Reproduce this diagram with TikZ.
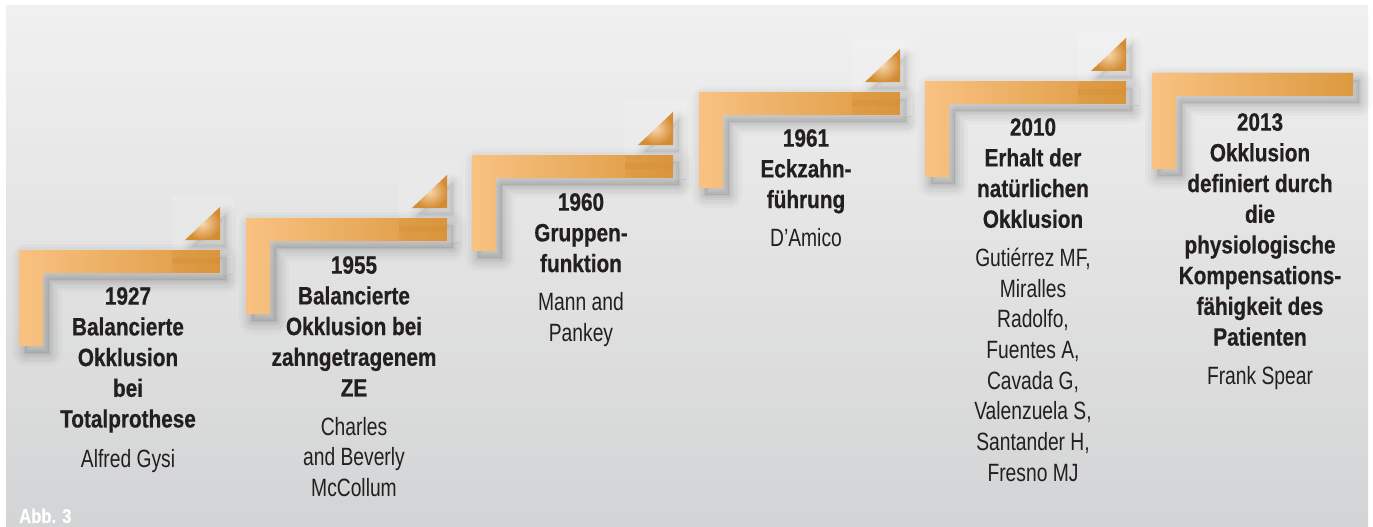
\documentclass[tikz,border=0pt]{standalone}
\usepackage{fontspec}
\setmainfont{Liberation Sans}[UprightFeatures={FakeStretch=0.77}, BoldFeatures={FakeStretch=0.83, FakeBold=0.6}]
\definecolor{txt}{HTML}{231F20}
\definecolor{orL}{HTML}{F9C282}
\definecolor{orR}{HTML}{DC993F}
\definecolor{orD}{HTML}{D38C34}
\definecolor{triIn}{HTML}{F7D6AC}
\definecolor{triOut}{HTML}{D48C33}
\definecolor{bgT}{HTML}{F0F0F0}
\definecolor{bgB}{HTML}{D3D4D5}
\tikzset{
  lbl/.style={align=center, inner sep=0pt, anchor=north, text=txt, font=\fontsize{25}{30.7}\selectfont},
  shd/.style={black, opacity=#1, line join=round}
}
\begin{document}
\begin{tikzpicture}[x=1pt,y=-1pt]
\useasboundingbox (0,0) rectangle (1373,527);
\fill[white] (0,0) rectangle (1373,527);
\shade[top color=bgT, bottom color=bgB] (6,6) rectangle (1368,527);
\foreach \L/\T/\tri in {19/250/1, 246/218/1, 472/155/1, 699/92/1, 925/81/1, 1152/73/0} {
  % soft shadows
  \begin{scope}[shift={(6,7)}]
    \fill[shd=0.08] (\L,\T) -- ++(201,0) -- ++(0,23) -- ++(-177,0) -- ++(0,73) -- ++(-24,0) -- cycle;
    \foreach \w/\o in {26/0.02, 20/0.024, 15/0.028, 10/0.032, 6/0.036, 2/0.04}
      \draw[shd=\o, line width=\w pt] (\L,\T) -- ++(201,0) -- ++(0,23) -- ++(-177,0) -- ++(0,73) -- ++(-24,0) -- cycle;
    \ifnum\tri=1
      \fill[shd=0.07] (\L+201,\T-43) -- (\L+201,\T-10) -- (\L+166,\T-10) -- cycle;
      \foreach \w/\o in {18/0.02, 12/0.026, 7/0.032, 3/0.038}
        \draw[shd=\o, line width=\w pt] (\L+201,\T-43) -- (\L+201,\T-10) -- (\L+166,\T-10) -- cycle;
    \fi
  \end{scope}
  \ifnum\tri=1
    \fill[white, opacity=0.12] (\L+153,\T-55) rectangle (\L+214,\T+24);
    \draw[gray!50, opacity=0.7, line width=0.5pt] (\L+153,\T+24.5) -- (\L+214,\T+24.5);
  \fi
  % bracket
  \shade[left color=orL, right color=orR] (\L,\T) -- ++(201,0) -- ++(0,23) -- ++(-177,0) -- ++(0,73) -- ++(-24,0) -- cycle;
  \ifnum\tri=1
    \fill[orD, opacity=0.25] (\L+153,\T) rectangle (\L+201,\T+23);
    \fill[orD, opacity=0.3] (\L+153,\T+8) rectangle (\L+201,\T+14);
    \shade[inner color=triIn, outer color=triOut] (\L+201,\T-43) -- (\L+201,\T-10) -- (\L+166,\T-10) -- cycle;
  \fi
}
\node[lbl] (t1) at (128,287) {\textbf{1927}\\\textbf{Balancierte}\\\textbf{Okklusion}\\\textbf{bei}\\\textbf{Totalprothese}\\[9pt]Alfred Gysi};
\node[lbl] (t2) at (354,256) {\textbf{1955}\\\textbf{Balancierte}\\\textbf{Okklusion bei}\\\textbf{zahngetragenem}\\\textbf{ZE}\\[8pt]Charles\\and Beverly\\McCollum};
\node[lbl] (t3) at (581,193) {\textbf{1960}\\\textbf{Gruppen-}\\\textbf{funktion}\\[8pt]Mann and\\Pankey};
\node[lbl] (t4) at (806,129) {\textbf{1961}\\\textbf{Eckzahn-}\\\textbf{führung}\\[8pt]D’Amico};
\node[lbl] (t5) at (1033,118) {\textbf{2010}\\\textbf{Erhalt der}\\\textbf{natürlichen}\\\textbf{Okklusion}\\[8pt]Gutiérrez MF,\\Miralles\\Radolfo,\\Fuentes A,\\Cavada G,\\Valenzuela S,\\Santander H,\\Fresno MJ};
\node[lbl] (t6) at (1260,113) {\textbf{2013}\\\textbf{Okklusion}\\\textbf{definiert durch}\\\textbf{die}\\\textbf{physiologische}\\\textbf{Kompensations-}\\\textbf{fähigkeit des}\\\textbf{Patienten}\\[8pt]Frank Spear};
\node[anchor=base west, inner sep=0pt, text=white, font=\bfseries\fontsize{20}{24}\selectfont] (abb) at (19,523) {Abb. 3};
\end{tikzpicture}
\end{document}
